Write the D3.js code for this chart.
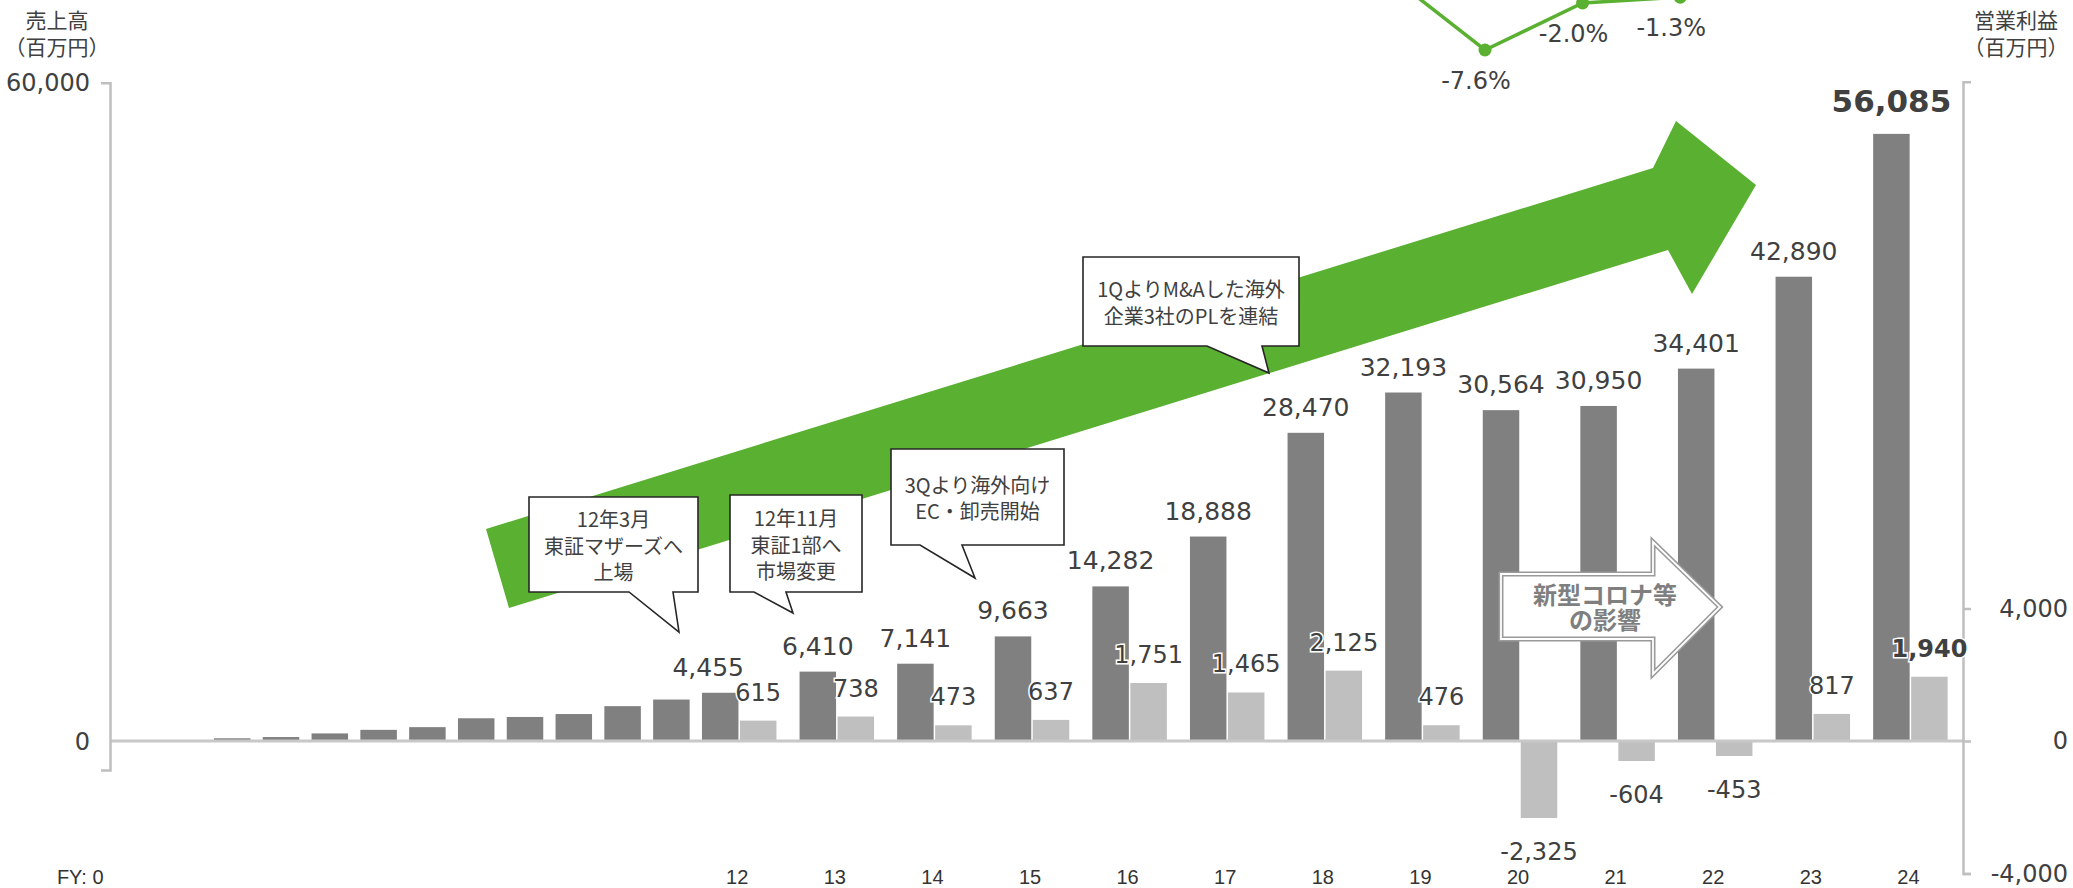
<!DOCTYPE html>
<html>
<head>
<meta charset="utf-8">
<script src="https://cdn.jsdelivr.net/npm/d3@7"></script>
<style>
  body { margin: 0; background: #fff; }
  svg { display: block; }
</style>
</head>
<body>
<svg id="chart"></svg>
<script>
document.addEventListener("DOMContentLoaded", function () {

    // ================================
    // DATA
    // ================================
    const fiscalYears = [0, 1, 2, 3, 4, 5, 6, 7, 8, 9, 10, 11, 12, 13, 14, 15, 16, 17, 18, 19, 20, 21, 22, 23, 24];
    const revenue = [0, 60, 250, 365, 700, 1030, 1280, 2100, 2220, 2490, 3220, 3830,
        4455, 6410, 7141, 9663, 14282, 18888, 28470, 32193, 30564, 30950, 34401, 42890, 56085];

    const profitYears = [12, 13, 14, 15, 16, 17, 18, 19, 20, 21, 22, 23, 24];
    const opProfit = [615, 738, 473, 637, 1751, 1465, 2125, 476, -2325, -604, -453, 817, 1940];

    const marginYears = [19, 20, 21, 22, 23];
    const opMargin = [1.5, -7.6, -2.0, -1.3, 1.9];
    const marginLabels = ["", "-7.6%", "-2.0%", "-1.3%", ""];

    const xTickYears = [12, 13, 14, 15, 16, 17, 18, 19, 20, 21, 22, 23, 24];

    const calloutText = [
        ["12年3月", "東証マザーズへ", "上場"],
        ["12年11月", "東証1部へ", "市場変更"],
        ["3Qより海外向け", "EC・卸売開始"],
        ["1QよりM&Aした海外", "企業3社のPLを連結"]
    ];
    const coronaText = ["新型コロナ等", "の影響"];

    // ================================
    // SVG + SCALES
    // ================================
    const width = 2073;
    const height = 888;

    const svg = d3.select("#chart")
        .attr("width", width)
        .attr("height", height);

    const NUM_FONT = "'DejaVu Sans', Verdana, sans-serif";
    const JP_FONT = "'Noto Sans CJK JP', 'Noto Sans', sans-serif";
    const TXT = "#404040";
    const GREEN = "#5ab031";

    const fmt = d => d3.format(",")(d).replace("\u2212", "-");

    // early years take one slot, from FY12 each year takes two (revenue + profit)
    const slot = fy => fy < 12 ? fy : 12 + 2 * (fy - 12);
    const x = d3.scaleLinear().domain([0, 36]).range([134.6, 1891.4]);
    const barW = 36.5;
    const profitOffset = 38;
    const labelOffset = 17;

    const yL = d3.scaleLinear().domain([0, 60000]).range([741, 91.5]);
    const yR = d3.scaleLinear().domain([-4000, 4000]).range([873.5, 608.5]);
    const yM = d3.scaleLinear().domain([-7.6, -2.0]).range([50, 3]);

    const leftAxisX = 110;
    const rightAxisX = 1963;

    // ================================
    // BIG GREEN ARROW (background)
    // ================================
    const growthArrow = [[486, 529], [1653, 168], [1676, 121], [1756, 185], [1692, 294], [1668, 250], [509, 608]];
    svg.append("polygon")
        .attr("points", growthArrow.map(p => p.join(",")).join(" "))
        .attr("fill", GREEN);

    // ================================
    // BARS
    // ================================
    const gBars = svg.append("g");

    gBars.selectAll("rect.rev")
        .data(fiscalYears)
        .join("rect")
        .attr("class", "rev")
        .attr("x", (d) => x(slot(d)) - barW / 2)
        .attr("width", barW)
        .attr("y", (d, i) => yL(revenue[i]))
        .attr("height", (d, i) => yL(0) - yL(revenue[i]))
        .attr("fill", "#808080");

    gBars.selectAll("rect.op")
        .data(profitYears)
        .join("rect")
        .attr("class", "op")
        .attr("x", d => x(slot(d)) + profitOffset - barW / 2)
        .attr("width", barW)
        .attr("y", (d, i) => Math.min(yR(opProfit[i]), yR(0)))
        .attr("height", (d, i) => Math.abs(yR(opProfit[i]) - yR(0)))
        .attr("fill", "#bfbfbf");

    // zero line
    svg.append("line")
        .attr("x1", leftAxisX).attr("x2", rightAxisX)
        .attr("y1", yL(0)).attr("y2", yL(0))
        .attr("stroke", "#c8c8c8")
        .attr("stroke-width", 3);

    // ================================
    // AXES
    // ================================
    const leftAxisMin = -2680, leftAxisMax = 60800;
    const axisL = d3.axisLeft(d3.scaleLinear().domain([leftAxisMin, leftAxisMax]).range([yL(leftAxisMin), yL(leftAxisMax)]))
        .tickValues([]).tickSizeOuter(9);
    const gL = svg.append("g").attr("transform", `translate(${leftAxisX},0)`).call(axisL);
    gL.select(".domain").attr("stroke", "#bfbfbf").attr("stroke-width", 2.5);

    svg.append("g").selectAll("text")
        .data([[0, "0"], [leftAxisMax, "60,000"]])
        .join("text")
        .attr("x", leftAxisX - 20)
        .attr("y", d => yL(d[0]))
        .attr("dy", "0.36em")
        .attr("text-anchor", "end")
        .attr("font-family", NUM_FONT)
        .attr("font-size", 24)
        .attr("fill", TXT)
        .text(d => d[1]);

    const rightAxisMax = 19900;
    const axisR = d3.axisRight(d3.scaleLinear().domain([-4000, rightAxisMax]).range([yR(-4000), yR(rightAxisMax)]))
        .tickValues([-4000, 0, 4000]).tickSizeInner(8).tickSizeOuter(8).tickFormat(fmt);
    const gR = svg.append("g").attr("transform", `translate(${rightAxisX},0)`).call(axisR);
    gR.select(".domain").attr("stroke", "#bfbfbf").attr("stroke-width", 2.5);
    gR.selectAll(".tick line").attr("stroke", "#bfbfbf").attr("stroke-width", 2.5);
    gR.selectAll(".tick text")
        .attr("x", 2068 - rightAxisX)
        .attr("text-anchor", "end")
        .attr("font-family", NUM_FONT)
        .attr("font-size", 24)
        .attr("fill", TXT);

    // axis titles
    const titles = [
        { x: 57, lines: ["売上高", "（百万円）"] },
        { x: 2016, lines: ["営業利益", "（百万円）"] }
    ];
    titles.forEach(t => {
        svg.append("g").selectAll("text")
            .data(t.lines)
            .join("text")
            .attr("x", t.x)
            .attr("y", (d, i) => 20 + i * 27)
            .attr("dy", "0.36em")
            .attr("text-anchor", "middle")
            .attr("font-family", JP_FONT)
            .attr("font-size", 21)
            .attr("fill", TXT)
            .text(d => d);
    });

    // x labels
    const gX = svg.append("g")
        .attr("font-family", "'Liberation Sans', Arial, sans-serif")
        .attr("font-size", 20)
        .attr("fill", "#333");
    gX.selectAll("text")
        .data(xTickYears)
        .join("text")
        .attr("x", d => x(slot(d)) + labelOffset)
        .attr("y", 877)
        .attr("dy", "0.36em")
        .attr("text-anchor", "middle")
        .text(d => d);
    gX.append("text")
        .attr("x", x(slot(fiscalYears[0])) - 31)
        .attr("y", 877)
        .attr("dy", "0.36em")
        .attr("text-anchor", "end")
        .text("FY: " + fiscalYears[0]);

    // ================================
    // CALLOUTS
    // ================================
    const calloutLayout = [
        { box: [529, 497, 698, 592], base: [629, 673], tip: [679, 632] },
        { box: [730, 495, 862, 592], base: [754, 786], tip: [793, 613] },
        { box: [891, 449, 1064, 545], base: [920, 962], tip: [975, 578] },
        { box: [1083, 257, 1299, 346], base: [1207, 1262], tip: [1269, 373] }
    ];
    calloutLayout.forEach((c, k) => {
        const [x0, y0, x1, y1] = c.box;
        const pts = [[x0, y0], [x1, y0], [x1, y1], [c.base[1], y1], c.tip, [c.base[0], y1], [x0, y1]];
        svg.append("polygon")
            .attr("points", pts.map(p => p.join(",")).join(" "))
            .attr("fill", "#fff")
            .attr("stroke", "#262626")
            .attr("stroke-width", 1.6)
            .attr("stroke-linejoin", "miter");
        const lines = calloutText[k];
        const mid = (y0 + y1) / 2 + 2;
        svg.append("g").selectAll("text")
            .data(lines)
            .join("text")
            .attr("x", (x0 + x1) / 2)
            .attr("y", (d, i) => mid + (i - (lines.length - 1) / 2) * 26.5)
            .attr("dy", "0.36em")
            .attr("text-anchor", "middle")
            .attr("font-family", JP_FONT)
            .attr("font-size", 20)
            .attr("fill", TXT)
            .text(d => d);
    });

    // ================================
    // CORONA ARROW
    // ================================
    const coronaArrow = [[1501, 574], [1653, 574], [1653, 542], [1720, 607], [1653, 674], [1653, 639], [1501, 639]];
    const coronaPts = coronaArrow.map(p => p.join(",")).join(" ");
    svg.append("polygon")
        .attr("points", coronaPts)
        .attr("fill", "#fff")
        .attr("stroke", "#9a9a9a")
        .attr("stroke-width", 5);
    svg.append("polygon")
        .attr("points", coronaPts)
        .attr("fill", "none")
        .attr("stroke", "#fff")
        .attr("stroke-width", 1.8);
    svg.append("g").selectAll("text")
        .data(coronaText)
        .join("text")
        .attr("x", 1605)
        .attr("y", (d, i) => 595 + i * 25)
        .attr("dy", "0.36em")
        .attr("text-anchor", "middle")
        .attr("font-family", JP_FONT)
        .attr("font-size", 24)
        .attr("font-weight", 700)
        .attr("fill", "#7f7f7f")
        .text(d => d);

    // ================================
    // VALUE LABELS
    // ================================
    const last = fiscalYears.length - 1;
    svg.append("g").selectAll("text")
        .data(profitYears)
        .join("text")
        .attr("x", d => x(slot(d)) - (d === profitYears[0] ? 12 : 0))
        .attr("y", d => {
            const v = revenue[fiscalYears.indexOf(d)];
            return yL(v) - (d === fiscalYears[last] ? 22 : 17);
        })
        .attr("text-anchor", "middle")
        .attr("font-family", NUM_FONT)
        .attr("font-size", d => d === fiscalYears[last] ? 31 : 25)
        .attr("font-weight", d => d === fiscalYears[last] ? 700 : 400)
        .attr("fill", TXT)
        .text(d => fmt(revenue[fiscalYears.indexOf(d)]));

    svg.append("g").selectAll("text")
        .data(profitYears)
        .join("text")
        .attr("x", d => x(slot(d)) + profitOffset)
        .attr("y", (d, i) => opProfit[i] >= 0 ? yR(opProfit[i]) - 20 : yR(opProfit[i]) + 42)
        .attr("text-anchor", "middle")
        .attr("font-family", NUM_FONT)
        .attr("font-size", 24)
        .attr("font-weight", (d, i) => i === profitYears.length - 1 ? 700 : 400)
        .attr("fill", TXT)
        .attr("stroke", "#fff")
        .attr("stroke-width", 3)
        .attr("paint-order", "stroke")
        .text((d, i) => fmt(opProfit[i]));

    // ================================
    // MARGIN LINE
    // ================================
    const mx = d => x(slot(d)) - 16;
    const line = d3.line()
        .x(d => mx(d))
        .y((d, i) => yM(opMargin[i]));
    svg.append("path")
        .datum(marginYears)
        .attr("d", line)
        .attr("fill", "none")
        .attr("stroke", GREEN)
        .attr("stroke-width", 3.5);
    svg.append("g").selectAll("circle")
        .data(marginYears)
        .join("circle")
        .attr("cx", d => mx(d))
        .attr("cy", (d, i) => yM(opMargin[i]))
        .attr("r", 6.5)
        .attr("fill", GREEN);
    svg.append("g").selectAll("text")
        .data(marginYears)
        .join("text")
        .attr("x", d => mx(d) - 9)
        .attr("y", (d, i) => yM(opMargin[i]) + 39)
        .attr("text-anchor", "middle")
        .attr("font-family", NUM_FONT)
        .attr("font-size", 24)
        .attr("fill", TXT)
        .text((d, i) => marginLabels[i]);
});
</script>
</body>
</html>
